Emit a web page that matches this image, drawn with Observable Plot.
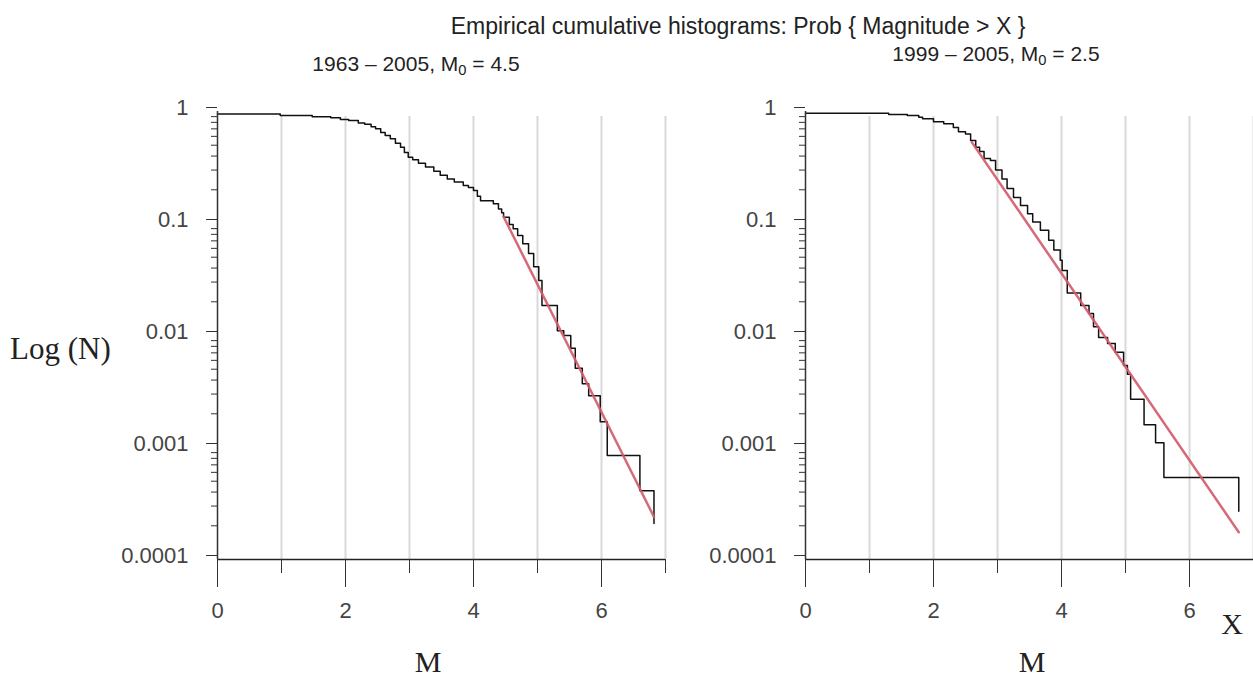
<!DOCTYPE html>
<html>
<head>
<meta charset="utf-8">
<script src="https://cdn.jsdelivr.net/npm/d3@7"></script>
<script src="https://cdn.jsdelivr.net/npm/@observablehq/plot@0.6"></script>
<style>
  body { margin: 0; background: #fff; }
  #wrap { position: relative; width: 1253px; height: 677px; overflow: hidden; background: #fff; }
  #wrap svg { position: absolute; top: 0; }
  .t { position: absolute; white-space: nowrap; color: #222; }
  .sans { font-family: "Liberation Sans", Arial, sans-serif; }
  .serif { font-family: "Liberation Serif", "Times New Roman", serif; }
  sub { font-size: 70%; vertical-align: -4px; line-height: 0; }
</style>
</head>
<body>
<div id="wrap"></div>
<script>
// ---- data ----
const mainTitle = "Empirical cumulative histograms: Prob { Magnitude > X }";
const leftSubtitle = ["1963 – 2005, M", "0", " = 4.5"];
const rightSubtitle = ["1999 – 2005,  M", "0", " = 2.5"];

const yTickValues = [1, 0.1, 0.01, 0.001, 0.0001];
const yTickLabels = ["1", "0.1", "0.01", "0.001", "0.0001"];
const xMajorTicks = [0, 2, 4, 6];
const xTickLabels = ["0", "2", "4", "6"];
const xMinorTicks = [1, 3, 5, 7];
const gridValues = [1, 2, 3, 4, 5, 6, 7];

// Left panel: 1963-2005, empirical P(Magnitude > X), step starts (M, value)
const leftM = [0, 0.98, 1.48, 1.77, 1.92, 2.05, 2.2, 2.3, 2.4, 2.47, 2.55, 2.62, 2.70, 2.78, 2.86, 2.92, 2.98, 3.05, 3.14, 3.25, 3.38, 3.48, 3.59, 3.70, 3.84, 3.92, 4.0, 4.06, 4.11, 4.31, 4.39, 4.44, 4.47, 4.56, 4.62, 4.69, 4.77, 4.86, 4.94, 5.02, 5.07, 5.31, 5.41, 5.52, 5.59, 5.70, 5.80, 5.98, 6.09, 6.60, 6.82];
const leftP = [0.95, 0.92, 0.90, 0.88, 0.85, 0.83, 0.79, 0.77, 0.73, 0.70, 0.65, 0.61, 0.57, 0.52, 0.48, 0.43, 0.39, 0.37, 0.345, 0.32, 0.293, 0.27, 0.25, 0.235, 0.218, 0.21, 0.197, 0.175, 0.16, 0.15, 0.135, 0.125, 0.114, 0.098, 0.090, 0.078, 0.066, 0.054, 0.041, 0.031, 0.0185, 0.011, 0.010, 0.0077, 0.0051, 0.0037, 0.0029, 0.0017, 0.00085, 0.00041, 0.00021];
const leftFitM = [4.47, 6.82];
const leftFitP = [0.115, 0.00024];

// Right panel: 1999-2005
const rightM = [0, 1.30, 1.59, 1.77, 1.83, 2.0, 2.16, 2.31, 2.39, 2.5, 2.58, 2.66, 2.72, 2.79, 2.89, 2.97, 3.07, 3.15, 3.25, 3.36, 3.47, 3.55, 3.67, 3.80, 3.88, 3.98, 4.01, 4.09, 4.30, 4.43, 4.50, 4.58, 4.72, 4.84, 4.97, 5.03, 5.08, 5.29, 5.47, 5.60, 6.77];
const rightP = [0.965, 0.94, 0.92, 0.89, 0.86, 0.81, 0.776, 0.72, 0.66, 0.63, 0.55, 0.48, 0.44, 0.38, 0.365, 0.30, 0.25, 0.205, 0.171, 0.145, 0.122, 0.103, 0.087, 0.071, 0.058, 0.047, 0.038, 0.024, 0.0185, 0.0157, 0.012, 0.0096, 0.0085, 0.0071, 0.0054, 0.0045, 0.0027, 0.0016, 0.0011, 0.00054, 0.00027];
const rightFitM = [2.6, 6.77];
const rightFitP = [0.53, 0.000175];

// ---- build ----
const minorY = [];
for (const d of [1e-4, 1e-3, 1e-2, 1e-1]) for (let k = 2; k <= 9; k++) minorY.push(+(k * d).toPrecision(3));

function panel(M, P, fitM, fitP, width, marginRight) {
  const steps = M.map((m, i) => ({m, p: P[i]}));
  const fit = fitM.map((m, i) => ({m, p: fitP[i]}));
  return Plot.plot({
    width, height: 677,
    marginLeft: 217, marginRight, marginTop: 111, marginBottom: 118,
    style: {fontFamily: "'Liberation Sans', Arial, sans-serif", fontSize: "22px", background: "transparent", overflow: "visible"},
    x: {domain: [0, 7]},
    y: {type: "log", domain: [1e-4, 1]},
    marks: [
      Plot.ruleX(gridValues, {y1: 0.9, y2: 1e-4, stroke: "#d9d9d9", strokeWidth: 2}),
      Plot.line(steps, {x: "m", y: "p", curve: "step-after", stroke: "#111", strokeWidth: 1.5}),
      Plot.line(fit, {x: "m", y: "p", stroke: "#d35a68", strokeWidth: 2.5, strokeOpacity: 0.9}),
      Plot.ruleY([1e-4], {x1: 0, x2: 7, stroke: "#222", strokeWidth: 1.5}),
      Plot.ruleX([0], {y1: 1e-4, y2: 1, stroke: "#333", strokeWidth: 1.5}),
      Plot.axisY({ticks: minorY, tickSize: 6, tickFormat: () => "", label: null, stroke: "#333"}),
      Plot.axisY({ticks: yTickValues, tickSize: 11, tickPadding: 18, dy: -4, label: null, stroke: "#333", fill: "#444",
                  tickFormat: (d) => yTickLabels[yTickValues.indexOf(d)]}),
      Plot.axisX({ticks: xMinorTicks, tickSize: 14, tickFormat: () => "", label: null, stroke: "#333"}),
      Plot.axisX({ticks: xMajorTicks, tickSize: 28, tickPadding: 15, label: null, stroke: "#333", fill: "#444",
                  tickFormat: (d) => xTickLabels[xMajorTicks.indexOf(d)]})
    ]
  });
}

const wrap = document.getElementById("wrap");
const left = panel(leftM, leftP, leftFitM, leftFitP, 700, 35);
left.style.left = "0px";
wrap.appendChild(left);
const right = panel(rightM, rightP, rightFitM, rightFitP, 665, 0);
right.style.left = "588px";
wrap.appendChild(right);

function addText(html, cls, x, y, size, anchor) {
  const d = document.createElement("div");
  d.className = "t " + cls;
  d.innerHTML = html;
  d.style.fontSize = size + "px";
  d.style.left = x + "px";
  d.style.top = y + "px";
  d.style.transform = anchor === "center" ? "translate(-50%, -50%)" : "translate(0, -50%)";
  wrap.appendChild(d);
}
addText(mainTitle.replace(">", "&gt;"), "sans", 738, 26, 23, "center");
addText(leftSubtitle[0] + "<sub>" + leftSubtitle[1] + "</sub>" + leftSubtitle[2], "sans", 416, 64, 21, "center");
addText(rightSubtitle[0] + "<sub>" + rightSubtitle[1] + "</sub>" + rightSubtitle[2], "sans", 996, 54, 21, "center");
addText("Log (N)", "serif", 10, 349, 31, "left");
addText("M", "serif", 428, 662, 30, "center");
addText("M", "serif", 1032, 662, 30, "center");
addText("X", "serif", 1232, 624, 30, "center");
</script>
</body>
</html>
